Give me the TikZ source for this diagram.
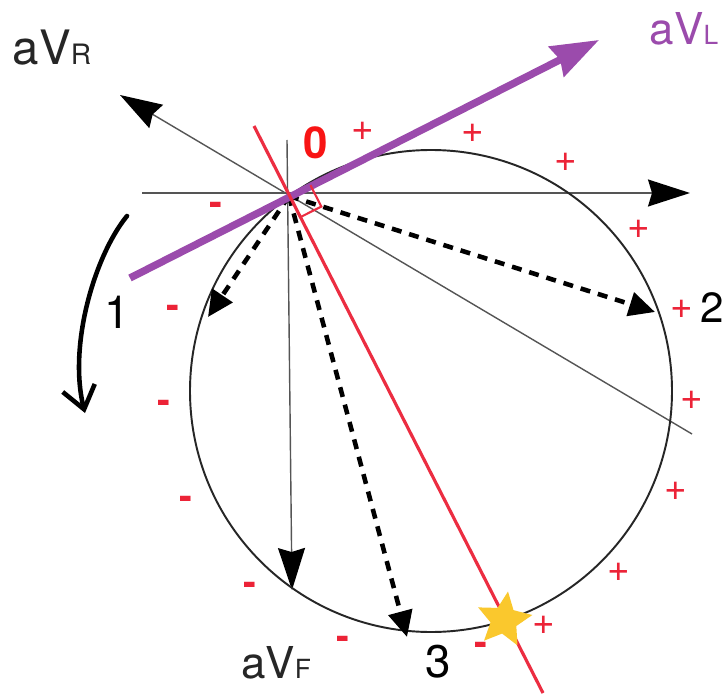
\documentclass[tikz,border=0pt]{standalone}
\usepackage{fontspec}
\setmainfont{TeX Gyre Heros}
\usetikzlibrary{arrows.meta,shapes.geometric,calc}
\definecolor{axisgray}{RGB}{85,85,85}
\definecolor{avlpurple}{RGB}{155,75,172}
\definecolor{perpred}{RGB}{236,45,65}
\definecolor{signred}{RGB}{236,35,55}
\definecolor{zerored}{RGB}{248,20,20}
\definecolor{stargold}{RGB}{250,200,45}

\tikzset{
  leadaxis/.style={axisgray, line width=0.8pt,
    -{Stealth[length=0.84cm,width=0.54cm,inset=0.08cm,black]}},
  vecdash/.style={black, line width=2.6pt, dash pattern=on 0.2cm off 0.16cm,
    -{Triangle[length=0.52cm,width=0.48cm]}},
  sgn/.style={text=signred, font=\fontsize{22}{22}\selectfont, inner sep=0pt},
  num/.style={font=\fontsize{26}{26}\selectfont, inner sep=0pt},
}

\begin{document}
\begin{tikzpicture}[x=0.02cm, y=-0.02cm, >=Stealth]

  %% -- Frame (pixel grid, y downwards) --------------------------------
  \fill[white] (0,0) rectangle (727,696);
  \useasboundingbox (0,0) rectangle (727,696);

  %% -- Key points ------------------------------------------------------
  \coordinate (O) at (289,196);
  \coordinate (C) at (431,391);
  \coordinate (Iwest) at (142,193);
  \coordinate (Ieast) at (690,193);
  \coordinate (Rtip) at (120,95);
  \coordinate (Rend) at (692,434);
  \coordinate (Ftop) at (287,140);
  \coordinate (Ftip) at (292,590);
  \coordinate (Lstart) at (130,278);
  \coordinate (Ltip) at (599,40);
  \coordinate (redA) at (254,126);
  \coordinate (redB) at (543,693);
  \coordinate (v1) at (208,317);
  \coordinate (v2) at (655,312);
  \coordinate (v3) at (407,637);
  \coordinate (turnA) at (127,216);
  \coordinate (turnB) at (85,413);

  %% -- Lead axes -------------------------------------------------------
  \draw[leadaxis] (Iwest) -- (Ieast);
  \draw[leadaxis] (Rend) -- (Rtip);
  \draw[leadaxis] (Ftop) -- (Ftip);

  %% -- Circle of the vector tips ---------------------------------------
  \draw[black!85, line width=1.1pt] (C) circle[radius=241];

  %% -- Dashed vectors 1, 2, 3 ------------------------------------------
  \foreach \v in {v1,v2,v3}{
    \draw[vecdash] (O) -- (\v);
  }

  %% -- aVL lead and its perpendicular ----------------------------------
  \draw[avlpurple, line width=4.2pt,
    -{Stealth[length=0.95cm,width=0.66cm,inset=0.08cm]}] (Lstart) -- (Ltip);
  \draw[perpred, line width=1.8pt] (redA) -- (redB);
  \coordinate (ra1) at ($(O)!0.48cm!(Ltip)$);
  \coordinate (ra2) at ($(O)!0.48cm!(redB)$);
  \draw[perpred, line width=1.2pt] (ra1) -- ($(ra1)+(ra2)-(O)$) -- (ra2);

  %% -- Star where the perpendicular meets the circle -------------------
  \node[star, star points=5, star point ratio=2.1, fill=stargold,
    minimum size=1.15cm, inner sep=0pt, rotate=-8] (hit) at (504,620) {};

  %% -- Turning arrow ---------------------------------------------------
  \draw[line width=2.6pt, line cap=round,
    -{Straight Barb[length=0.44cm,width=0.66cm]}]
    (turnA) .. controls (95,255) and (68,345) .. (turnB);

  %% -- Lead labels -----------------------------------------------------
  \node[inner sep=0pt, text=black!85] (labR) at (52,48)
    {\fontsize{27}{27}\selectfont aV\fontsize{16}{16}\selectfont R};
  \node[inner sep=0pt, text=avlpurple] (labL) at (684,29)
    {\fontsize{25}{25}\selectfont aV\fontsize{15}{15}\selectfont L};
  \node[inner sep=0pt, text=black!85] (labF) at (276,663)
    {\fontsize{25}{25}\selectfont aV\fontsize{15}{15}\selectfont F};

  %% -- Numbers ---------------------------------------------------------
  \node[text=zerored, font=\fontsize{25}{25}\selectfont\bfseries,
    inner sep=0pt] (n0) at (316,143) {0};
  \node[num] (n1) at (117,312) {1};
  \node[num, font=\fontsize{24}{24}\selectfont] (n2) at (712,308) {2};
  \node[num] (n3) at (438,662) {3};

  %% -- Signs round the circle ------------------------------------------
  \foreach \x/\y in {363/131, 473/133, 566/162, 639/229, 682/309,
                     692/400, 676/491, 619/572, 544/625}{
    \node[sgn] at (\x,\y) {+};
  }
  \foreach \x/\y in {216/209, 173/312, 164/407, 186/503, 250/589,
                     343/643, 481/649}{
    \node[sgn, font=\fontsize{22}{22}\selectfont\bfseries] at (\x,\y) {-};
  }

\end{tikzpicture}
\end{document}
